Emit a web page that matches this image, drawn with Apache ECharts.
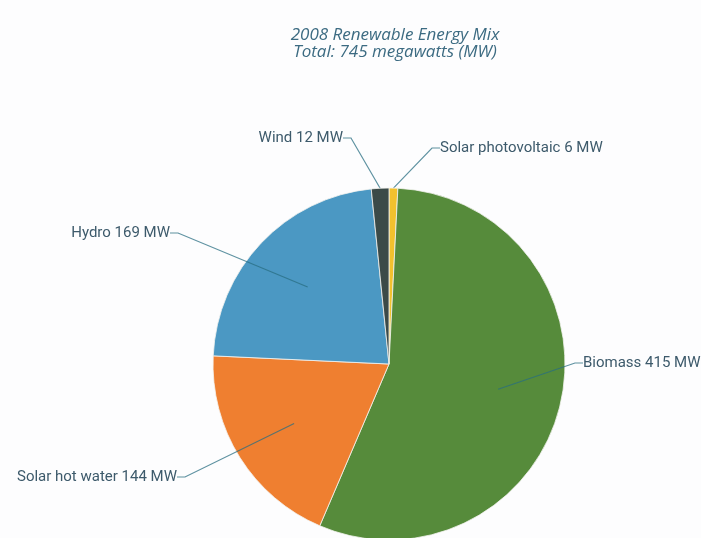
<!DOCTYPE html>
<html>
<head>
<meta charset="utf-8">
<script src="https://cdn.jsdelivr.net/npm/echarts@6/dist/echarts.min.js"></script>
<style>
html,body{margin:0;padding:0;background:#fdfdfe;}
#chart{width:701px;height:538px;}
</style>
</head>
<body>
<div id="chart"></div>
<script>
const titleLines = ['2008 Renewable Energy Mix', 'Total: 745 megawatts (MW)'];
const categories = ['Solar photovoltaic', 'Biomass', 'Solar hot water', 'Hydro', 'Wind'];
const values = [6, 415, 144, 169, 12];
const colors = ['#f2c12e', '#568b3b', '#ef7f30', '#4b98c3', '#3b4a48'];
// which labels hang from the slice edge (outer) vs. from inside the slice (inner)
const outerLabelled = ['Solar photovoltaic', 'Wind'];

const labelPlacement = {
  'Solar photovoltaic': {x: 440, y: 148, align: 'left'},
  'Wind': {x: 343, y: 138, align: 'right'},
  'Biomass': {x: 583, y: 363, align: 'left'},
  'Solar hot water': {x: 177, y: 477, align: 'right'},
  'Hydro': {x: 170, y: 233, align: 'right'}
};

const labelText = {
  color: '#3d5a6b', fontFamily: 'Roboto', fontSize: 15,
  formatter: p => p.name + ' ' + p.value + ' MW'
};
const lineStyle = {color: 'rgba(40,110,130,0.75)', width: 1.2};

function layoutFor(names) {
  return function (params) {
    const n = names[params.dataIndex];
    const pl = labelPlacement[n];
    return {x: pl.x, y: pl.y, align: pl.align, verticalAlign: 'middle'};
  };
}

const outerData = categories.map((c, i) => ({
  name: c, value: values[i],
  itemStyle: {color: colors[i]},
  label: {show: outerLabelled.includes(c)},
  labelLine: {show: outerLabelled.includes(c)}
}));
const innerData = categories.map((c, i) => ({
  name: c, value: values[i],
  label: {show: !outerLabelled.includes(c)},
  labelLine: {show: !outerLabelled.includes(c)}
}));

const chart = echarts.init(document.getElementById('chart'), null, {renderer: 'canvas'});
chart.setOption({
  backgroundColor: '#fdfdfe',
  animation: false,
  title: {
    text: titleLines.join('\n'),
    left: 390, top: 22, textAlign: 'center',
    textStyle: {fontFamily: 'Open Sans', fontStyle: 'italic', fontWeight: 'normal',
      fontSize: 17, lineHeight: 17, color: '#3c6b82'}
  },
  series: [
    {
      type: 'pie', center: [389, 364], radius: 176, z: 2,
      startAngle: 90, clockwise: true, silent: true,
      itemStyle: {borderColor: '#f4f4f0', borderWidth: 0.8},
      emphasis: {disabled: true},
      label: Object.assign({position: 'outside'}, labelText),
      labelLine: {length: 10, length2: 8, lineStyle: lineStyle},
      labelLayout: layoutFor(categories),
      data: outerData
    },
    {
      type: 'pie', center: [389, 364], radius: 112, z: 6,
      startAngle: 90, clockwise: true, silent: true,
      itemStyle: {color: 'rgba(0,0,0,0)'},
      emphasis: {disabled: true},
      label: Object.assign({position: 'outside'}, labelText),
      labelLine: {length: 10, length2: 8, lineStyle: lineStyle},
      labelLayout: layoutFor(categories),
      data: innerData
    }
  ]
});
</script>
</body>
</html>
